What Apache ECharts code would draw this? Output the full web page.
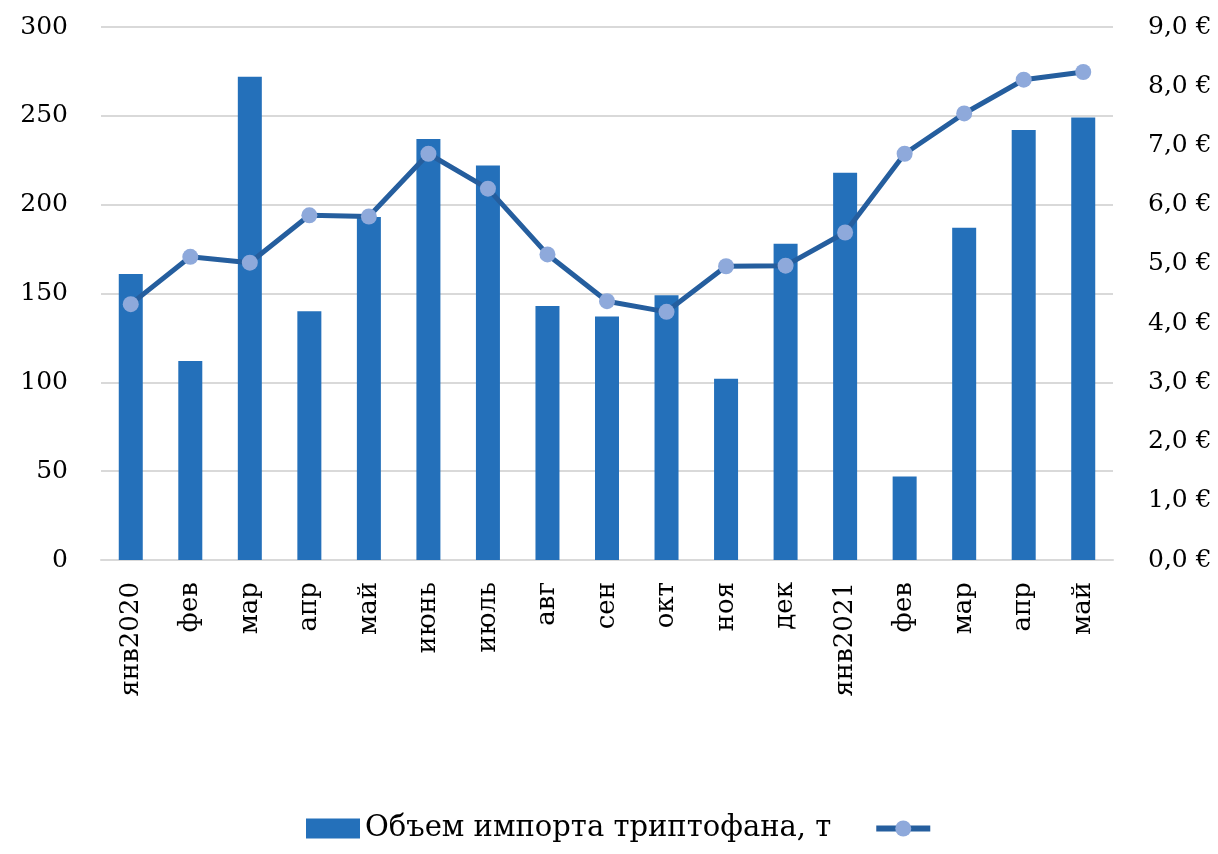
<!DOCTYPE html>
<html>
<head>
<meta charset="utf-8">
<style>
  html, body { margin: 0; padding: 0; background: #fff; }
  #chart { width: 1218px; height: 854px; }
</style>
<script src="https://cdn.jsdelivr.net/npm/echarts@6/dist/echarts.min.js"></script>
</head>
<body>
<div id="chart"></div>
<script>
// месяцы
let months = ['янв2020', 'фев', 'мар', 'апр', 'май', 'июнь', 'июль', 'авг', 'сен', 'окт', 'ноя', 'дек',
  'янв2021', 'фев', 'мар', 'апр', 'май'];
// объем импорта, т
let importVolume = [161, 112, 272, 140, 193, 237, 222, 143, 137, 149, 102, 178, 218, 47, 187, 242, 249];
// цена, €/кг
let price = [4.32, 5.12, 5.02, 5.82, 5.80, 6.86, 6.27, 5.16, 4.37, 4.19, 4.96, 4.97, 5.53, 6.86, 7.54, 8.11, 8.24];
let leftTicks = [0, 300, 50];
let rightTicks = [0, 9, 1];

let font = 'DejaVu Serif';
let chart = echarts.init(document.getElementById('chart'));
chart.setOption({
  animation: false,
  textStyle: {fontFamily: font},
  grid: {left: 101, right: 105, top: 27, bottom: 294},
  legend: {
    bottom: 11,
    left: 306,
    padding: 0,
    itemGap: 42,
    textStyle: {fontFamily: font, fontSize: 29, color: '#000'},
    data: [
      {name: 'Объем импорта триптофана, т', icon: 'rect', itemStyle: {color: '#2470BA'}},
      {name: ' ', lineStyle: {width: 6, color: '#255E9E'}}
    ],
    itemWidth: 54,
    itemHeight: 20
  },
  xAxis: {
    type: 'category',
    data: months,
    axisLine: {lineStyle: {color: '#d9d9d9', width: 2}},
    axisTick: {show: false},
    axisLabel: {
      rotate: 90,
      margin: 22,
      fontFamily: font,
      fontSize: 26,
      color: '#000',
      interval: 0
    }
  },
  yAxis: [{
    type: 'value',
    min: leftTicks[0],
    max: leftTicks[1],
    interval: leftTicks[2],
    axisLine: {show: false},
    axisTick: {show: false},
    splitLine: {lineStyle: {color: '#d9d9d9', width: 2}},
    axisLabel: {margin: 33, fontFamily: font, fontSize: 25, color: '#000'}
  }, {
    type: 'value',
    min: rightTicks[0],
    max: rightTicks[1],
    interval: rightTicks[2],
    axisLine: {show: false},
    axisTick: {show: false},
    splitLine: {show: false},
    axisLabel: {
      margin: 35,
      fontFamily: font,
      fontSize: 25,
      color: '#000',
      formatter: function (v) {
        return v.toFixed(1).replace('.', ',') + ' €';
      }
    }
  }],
  series: [{
    name: 'Объем импорта триптофана, т',
    type: 'bar',
    data: importVolume,
    barWidth: 24,
    itemStyle: {color: '#2470BA'}
  }, {
    name: ' ',
    type: 'line',
    yAxisIndex: 1,
    data: price,
    symbol: 'circle',
    symbolSize: 16,
    lineStyle: {color: '#255E9E', width: 5},
    itemStyle: {color: '#8EA9DB'}
  }]
});
</script>
</body>
</html>
